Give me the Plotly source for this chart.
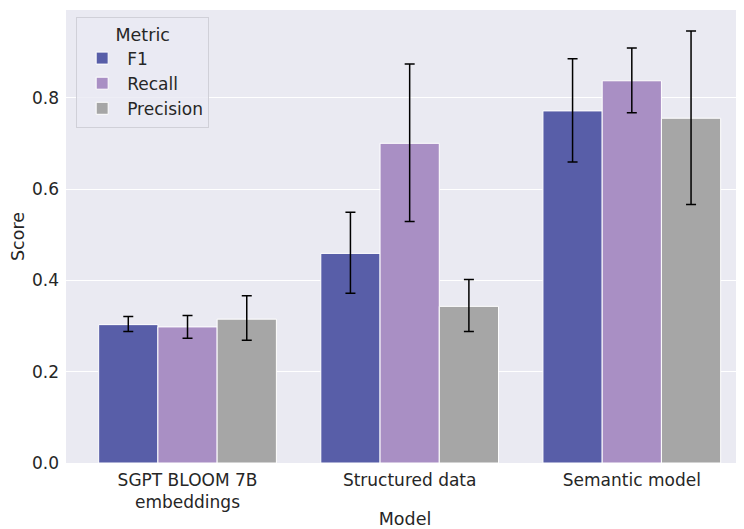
import plotly.graph_objects as go

models = ["SGPT BLOOM 7B<br>embeddings", "Structured data", "Semantic model"]
metrics = ["F1", "Recall", "Precision"]

f1 = [0.303, 0.459, 0.771]
f1_hi = [0.321, 0.549, 0.885]
f1_lo = [0.288, 0.372, 0.659]

recall = [0.298, 0.700, 0.837]
recall_hi = [0.323, 0.874, 0.909]
recall_lo = [0.273, 0.529, 0.767]

precision = [0.315, 0.343, 0.755]
precision_hi = [0.366, 0.402, 0.946]
precision_lo = [0.269, 0.288, 0.566]

colors = ["#585ea8", "#a98fc4", "#a6a6a6"]

series = [
    ("F1", f1, f1_hi, f1_lo),
    ("Recall", recall, recall_hi, recall_lo),
    ("Precision", precision, precision_hi, precision_lo),
]

FONT = "DejaVu Sans"
TXT = "#262626"

fig = go.Figure()
for (name, vals, hi, lo), col in zip(series, colors):
    fig.add_trace(go.Bar(
        x=models, y=vals, name=name,
        marker=dict(color=col, line=dict(color="white", width=1)),
        error_y=dict(
            type="data", symmetric=False,
            array=[h - v for h, v in zip(hi, vals)],
            arrayminus=[v - l for v, l in zip(vals, lo)],
            color="black", thickness=1.5, width=5,
        ),
    ))

fig.update_layout(
    width=744, height=529,
    margin=dict(l=58, r=8, t=2, b=74),
    paper_bgcolor="white",
    plot_bgcolor="#eaeaf2",
    barmode="group", bargap=0.2, bargroupgap=0,
    font=dict(family=FONT, size=17, color=TXT),
    xaxis=dict(
        title=dict(text="Model", font=dict(size=17.5), standoff=1),
        range=[-0.547, 2.505], showgrid=False, zeroline=False,
        ticks="", tickfont=dict(size=17), automargin=False,
        ticklabelstandoff=5,
    ),
    yaxis=dict(
        title=dict(text="Score", font=dict(size=17.5), standoff=6),
        range=[0, 0.992], tickvals=[0, 0.2, 0.4, 0.6, 0.8],
        ticktext=["0.0", "0.2", "0.4", "0.6", "0.8"],
        gridcolor="white", gridwidth=1, zeroline=False,
        ticks="", tickfont=dict(size=17), automargin=False,
        ticklabelstandoff=6,
    ),
    legend=dict(
        title=dict(text="Metric", side="top center", font=dict(size=17.5)),
        x=0.015, y=0.985, xanchor="left", yanchor="top",
        bgcolor="rgba(234,234,242,0.8)", bordercolor="#d0d0d8", borderwidth=1,
        font=dict(size=17), itemwidth=40,
    ),
)

fig.write_html("out.html")
